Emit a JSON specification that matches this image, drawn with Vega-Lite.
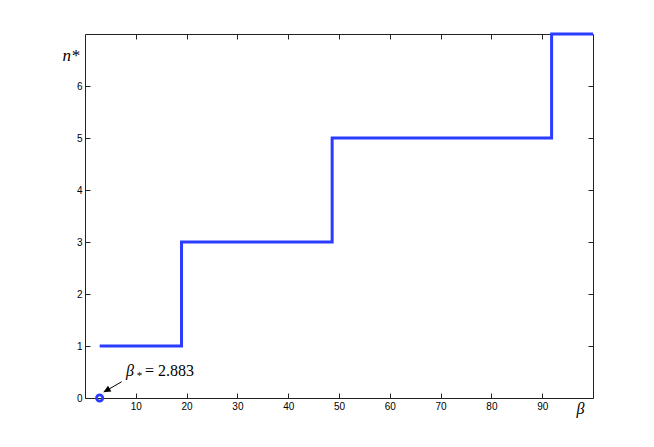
{
  "$schema": "https://vega.github.io/schema/vega-lite/v6.json",
  "width": 508,
  "height": 364,
  "autosize": {"type": "none"},
  "padding": {"left": 85, "top": 34, "right": 61, "bottom": 49},
  "background": "white",
  "config": {
    "view": {"stroke": null},
    "axis": {
      "grid": false,
      "domainColor": "#222",
      "domainWidth": 1,
      "tickColor": "#222",
      "tickWidth": 1,
      "tickSize": -5,
      "labelFont": "Liberation Sans",
      "labelFontSize": 10,
      "labelColor": "#000",
      "titleFont": "Liberation Serif",
      "titleFontStyle": "italic",
      "titleFontWeight": "normal",
      "titleColor": "#000"
    }
  },
  "datasets": {
    "steps": [
      {"beta": 2.883, "n": 1},
      {"beta": 19.0, "n": 3},
      {"beta": 48.65, "n": 5},
      {"beta": 91.85, "n": 7},
      {"beta": 100, "n": 7}
    ],
    "star": [{"beta": 2.883, "n": 0}],
    "arrow": [{"x1": 7.22, "y1": 0.313, "x2": 3.9, "y2": 0.125}],
    "head": [{"beta": 3.6, "n": 0.11}],
    "lab1": [{"beta": 8.07, "n": 0.423, "t": "β"}],
    "lab2": [{"beta": 10.2, "n": 0.37, "t": "*"}],
    "lab3": [{"beta": 11.8, "n": 0.423, "t": "= 2.883"}]
  },
  "resolve": {"axis": {"x": "independent", "y": "independent"}},
  "layer": [
    {
      "data": {"name": "steps"},
      "mark": {"type": "line", "interpolate": "step-after", "color": "#2a3cff", "strokeWidth": 3, "clip": false},
      "encoding": {
        "x": {"field": "beta", "type": "quantitative", "scale": {"domain": [0, 100], "nice": false, "zero": false},
          "axis": {"orient": "bottom", "values": [10, 20, 30, 40, 50, 60, 70, 80, 90], "labelPadding": 8, "title": "β", "titleFontSize": 16, "titleX": 491, "titleY": 15, "titleAlign": "left", "titleBaseline": "alphabetic", "titleAnchor": null}},
        "y": {"field": "n", "type": "quantitative", "scale": {"domain": [0, 7], "nice": false, "zero": false},
          "axis": {"orient": "left", "values": [0, 1, 2, 3, 4, 5, 6], "labelPadding": 8, "title": "n*", "titleFontSize": 17, "titleAngle": 0, "titleX": -23, "titleY": 26, "titleAlign": "left", "titleBaseline": "alphabetic", "titleAnchor": null}}
      }
    },
    {
      "data": {"name": "star"},
      "mark": {"type": "point", "shape": "circle", "filled": false, "color": "#2a3cff", "strokeWidth": 2.8, "size": 38, "opacity": 1, "clip": false},
      "encoding": {
        "x": {"field": "beta", "type": "quantitative", "axis": {"orient": "top", "values": [10, 20, 30, 40, 50, 60, 70, 80, 90], "labels": false, "title": null}},
        "y": {"field": "n", "type": "quantitative", "axis": {"orient": "right", "values": [0, 1, 2, 3, 4, 5, 6], "labels": false, "title": null}}
      }
    },
    {
      "data": {"name": "arrow"},
      "mark": {"type": "rule", "color": "#000", "strokeWidth": 1},
      "encoding": {
        "x": {"field": "x1", "type": "quantitative", "axis": null},
        "y": {"field": "y1", "type": "quantitative", "axis": null},
        "x2": {"field": "x2"},
        "y2": {"field": "y2"}
      }
    },
    {
      "data": {"name": "head"},
      "mark": {"type": "point", "shape": "M0,0 L0.45,1 L-0.45,1 Z", "filled": true, "color": "#000", "size": 220, "angle": 240, "opacity": 1},
      "encoding": {
        "x": {"field": "beta", "type": "quantitative", "axis": null},
        "y": {"field": "n", "type": "quantitative", "axis": null}
      }
    },
    {
      "data": {"name": "lab1"},
      "mark": {"type": "text", "font": "Liberation Serif", "fontStyle": "italic", "fontSize": 16, "align": "left", "baseline": "alphabetic", "color": "#000"},
      "encoding": {
        "x": {"field": "beta", "type": "quantitative", "axis": null},
        "y": {"field": "n", "type": "quantitative", "axis": null},
        "text": {"field": "t"}
      }
    },
    {
      "data": {"name": "lab2"},
      "mark": {"type": "text", "font": "Liberation Serif", "fontSize": 11, "align": "left", "baseline": "alphabetic", "color": "#000"},
      "encoding": {
        "x": {"field": "beta", "type": "quantitative", "axis": null},
        "y": {"field": "n", "type": "quantitative", "axis": null},
        "text": {"field": "t"}
      }
    },
    {
      "data": {"name": "lab3"},
      "mark": {"type": "text", "font": "Liberation Serif", "fontSize": 16, "align": "left", "baseline": "alphabetic", "color": "#000"},
      "encoding": {
        "x": {"field": "beta", "type": "quantitative", "axis": null},
        "y": {"field": "n", "type": "quantitative", "axis": null},
        "text": {"field": "t"}
      }
    }
  ]
}
